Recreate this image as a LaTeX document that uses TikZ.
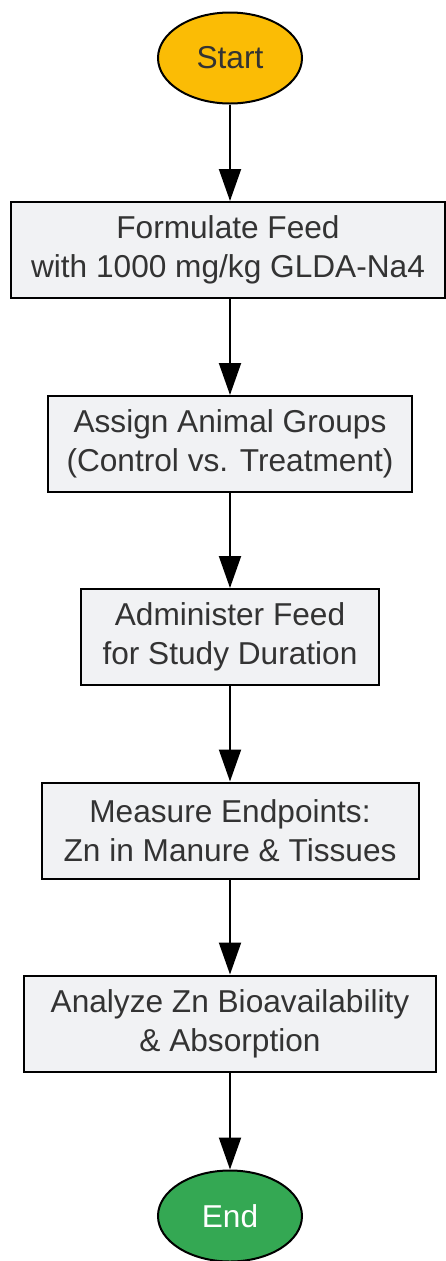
\documentclass[tikz,border=0pt]{standalone}
\usepackage{fontspec}
\setmainfont{Liberation Sans}
\usetikzlibrary{shapes.geometric,arrows.meta}
\definecolor{startfill}{HTML}{FBBC05}
\definecolor{endfill}{HTML}{34A853}
\definecolor{boxfill}{HTML}{F1F2F4}
\definecolor{txtgray}{HTML}{333333}
\tikzset{
	stepbox/.style={draw=black, line width=0.04cm, fill=boxfill, text=txtgray, align=center,
		minimum height=1.92cm, inner sep=0pt, font=\fontsize{18}{22}\selectfont},
	terminal/.style={ellipse, draw=black, line width=0.04cm, minimum width=2.88cm,
		minimum height=1.82cm, inner sep=0pt, font=\fontsize{18}{22}\selectfont},
	flow/.style={line width=0.04cm, -{Triangle[length=0.64cm, width=0.44cm]}}
}

\begin{document}
\begin{tikzpicture}
		\useasboundingbox (0,0) rectangle (8.92,-25.22);
		\node[terminal, fill=startfill, text=txtgray] (start) at (4.6,-1.16) {Start};
		\node[stepbox, minimum width=8.66cm] (formulate) at (4.56,-5.0) {Formulate Feed\\with 1000 mg/kg GLDA-Na4};
		\node[stepbox, minimum width=7.28cm] (assign) at (4.6,-8.88) {Assign Animal Groups\\(Control vs. Treatment)};
		\node[stepbox, minimum width=5.96cm] (administer) at (4.6,-12.74) {Administer Feed\\for Study Duration};
		\node[stepbox, minimum width=7.54cm] (measure) at (4.6,-16.61) {Measure Endpoints:\\Zn in Manure \& Tissues};
		\node[stepbox, minimum width=8.24cm] (analyze) at (4.6,-20.47) {Analyze Zn Bioavailability\\\& Absorption};
		\node[terminal, fill=endfill, text=white] (end) at (4.6,-24.32) {End};
		%
		\draw [flow] (start) to (start |- formulate.north);
		\draw [flow] (formulate.south -| assign) to (assign);
		\draw [flow] (assign) to (administer);
		\draw [flow] (administer) to (measure);
		\draw [flow] (measure) to (analyze);
		\draw [flow] (analyze) to (end);
	\end{tikzpicture}
\end{document}
